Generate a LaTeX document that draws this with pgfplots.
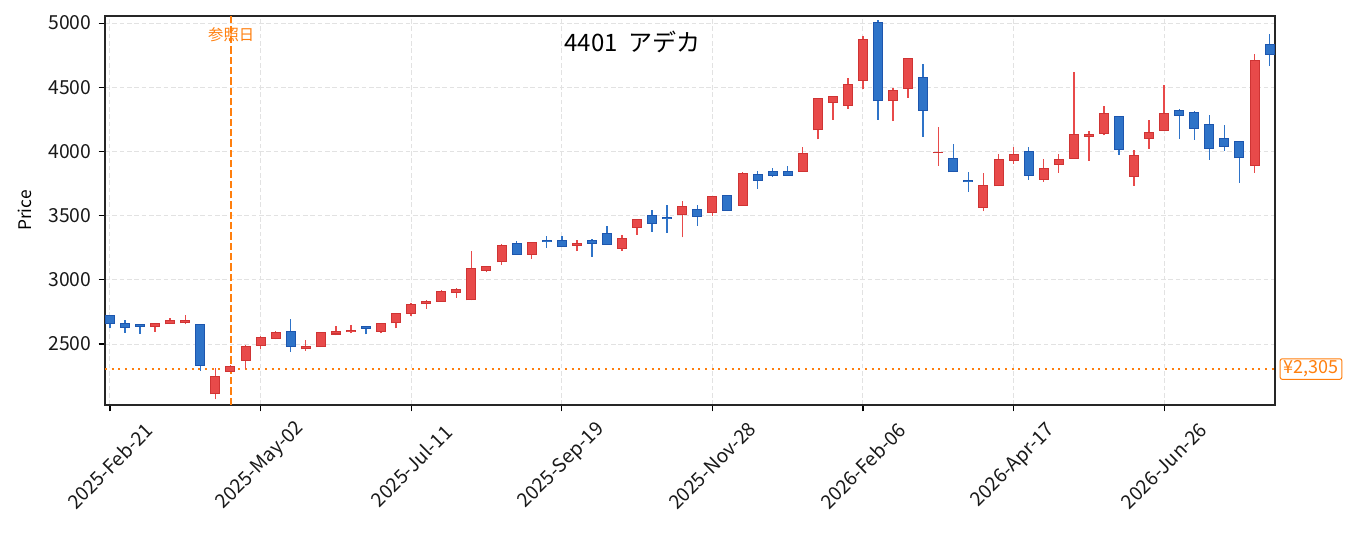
\documentclass[border=0pt]{standalone}
\usepackage{fontspec}
\usepackage{pgfplots}
\pgfplotsset{compat=1.18}
\usepackage{pgfplotstable}
\setmainfont{Noto Sans CJK JP}
\definecolor{upfill}{HTML}{E84A4A}
\definecolor{upedge}{HTML}{CF3434}
\definecolor{dnfill}{HTML}{2E73C8}
\definecolor{dnedge}{HTML}{1D56AE}
\definecolor{refor}{HTML}{FF7F0E}
\definecolor{gridc}{HTML}{E2E2E2}

\pgfplotstableread{
x O H L C
0 2720 2722 2627 2656
1 2661 2685 2588 2632
2 2653 2656 2580 2640
3 2640 2666 2596 2656
4 2656 2703 2655 2685
5 2664 2726 2653 2685
6 2653 2656 2292 2334
7 2111 2311 2069 2245
8 2285 2336 2279 2328
9 2375 2492 2303 2479
10 2492 2562 2463 2552
11 2544 2601 2537 2591
12 2596 2695 2436 2484
13 2463 2531 2448 2482
14 2477 2596 2475 2591
15 2578 2640 2568 2596
16 2596 2648 2583 2604
17 2635 2637 2575 2622
18 2601 2660 2583 2658
19 2664 2740 2622 2736
20 2739 2819 2720 2806
21 2812 2845 2775 2835
22 2835 2921 2832 2910
23 2903 2936 2861 2928
24 2843 3224 2840 3087
25 3076 3105 3058 3102
26 3139 3279 3118 3266
27 3284 3300 3198 3201
28 3201 3294 3162 3292
29 3305 3341 3250 3297
30 3305 3341 3260 3263
31 3271 3310 3224 3284
32 3308 3318 3180 3284
33 3362 3421 3277 3279
34 3245 3349 3227 3320
35 3411 3473 3351 3471
36 3502 3544 3375 3440
37 3487 3583 3367 3479
38 3512 3614 3331 3569
39 3546 3583 3421 3497
40 3528 3652 3497 3647
41 3658 3662 3536 3541
42 3580 3840 3578 3830
43 3819 3847 3709 3772
44 3845 3871 3803 3816
45 3845 3886 3814 3816
46 3847 4034 3845 3985
47 4167 4412 4094 4410
48 4385 4433 4247 4431
49 4359 4572 4333 4520
50 4556 4899 4488 4870
51 5002 5023 4247 4393
52 4393 4494 4237 4473
53 4494 4724 4418 4722
54 4574 4678 4115 4322
55 3988 4190 3889 3995
56 3943 4058 3838 3840
57 3772 3840 3686 3764
58 3567 3832 3536 3733
59 3731 3977 3729 3935
60 3933 4034 3904 3975
61 4002 4034 3780 3814
62 3783 3939 3764 3865
63 3899 3980 3834 3935
64 3946 4618 3944 4130
65 4120 4157 3928 4133
66 4141 4354 4125 4294
67 4273 4275 3975 4016
68 3806 4009 3733 3967
69 4102 4245 4021 4146
70 4164 4517 4160 4294
71 4315 4330 4099 4283
72 4302 4315 4091 4182
73 4208 4283 3935 4026
74 4099 4206 4006 4042
75 4076 4078 3756 3949
76 3894 4756 3834 4706
77 4831 4912 4665 4756
}\candles

\begin{document}
\begin{tikzpicture}
\begin{axis}[
  name=ax, at={(0,0)}, anchor=south west,
  scale only axis, width=877.5pt, height=291.75pt,
  xmin=-0.33, xmax=77.36, ymin=2025, ymax=5055,
  clip=false,
  xtick={0,10,...,70},
  xticklabels={2025-Feb-21,2025-May-02,2025-Jul-11,2025-Sep-19,2025-Nov-28,2026-Feb-06,2026-Apr-17,2026-Jun-26},
  ytick={2500,3000,...,5000},
  /pgf/number format/assume math mode=true,
  /pgf/number format/1000 sep={},
  tick label style={font=\fontsize{14.5}{16}\selectfont, text=black!90},
  xticklabel style={anchor=center, yshift=-41pt, rotate=45},
  yticklabel style={xshift=-2pt},
  xtick pos=bottom, ytick pos=left,
  tick align=outside, major tick length=4.7pt,
  tick style={black, line width=0.8pt},
  axis line style={black!85, line width=1pt},
  grid=major,
  grid style={gridc, line width=0.75pt, dash pattern=on 3.5pt off 2pt},
  ylabel={Price},
  every axis y label/.style={at={(axis description cs:-0.0684,0.5)}, rotate=90, anchor=center, font=\fontsize{13}{15}\selectfont},
]
% reference lines
\addplot[forget plot, refor, line width=1.4pt, dash pattern=on 1.4pt off 3.6pt] coordinates {(-0.33,2305) (77.36,2305)};
\addplot[forget plot, refor, line width=1.7pt, dash pattern=on 5.5pt off 2.25pt] coordinates {(8.05,2025) (8.05,5055)};
% wicks
\addplot[forget plot, draw=none, mark=none,
  restrict expr to domain={\thisrow{C}-\thisrow{O}}{0:100000},
  error bars/.cd, y dir=plus, y explicit, error mark=none,
  error bar style={draw=upfill, line width=1.1pt, solid}]
  table[x=x, y=L, y error expr=\thisrow{H}-\thisrow{L}] {\candles};
\addplot[forget plot, draw=none, mark=none,
  restrict expr to domain={\thisrow{C}-\thisrow{O}}{-100000:0},
  error bars/.cd, y dir=plus, y explicit, error mark=none,
  error bar style={draw=dnfill, line width=1.1pt, solid}]
  table[x=x, y=L, y error expr=\thisrow{H}-\thisrow{L}] {\candles};
% bodies: edge
\addplot[forget plot, draw=none, mark=none,
  restrict expr to domain={\thisrow{C}-\thisrow{O}}{0:100000},
  error bars/.cd, y dir=plus, y explicit, error mark=none,
  error bar style={draw=upedge, line width=7.5pt, solid}]
  table[x=x, y expr={min(\thisrow{O},\thisrow{C})-3.9}, y error expr={abs(\thisrow{C}-\thisrow{O})+7.8}] {\candles};
\addplot[forget plot, draw=none, mark=none,
  restrict expr to domain={\thisrow{C}-\thisrow{O}}{-100000:0},
  error bars/.cd, y dir=plus, y explicit, error mark=none,
  error bar style={draw=dnedge, line width=7.5pt, solid}]
  table[x=x, y expr={min(\thisrow{O},\thisrow{C})-3.9}, y error expr={abs(\thisrow{C}-\thisrow{O})+7.8}] {\candles};
% bodies: fill
\addplot[forget plot, draw=none, mark=none,
  restrict expr to domain={\thisrow{C}-\thisrow{O}}{0:100000},
  error bars/.cd, y dir=plus, y explicit, error mark=none,
  error bar style={draw=upfill, line width=6pt, solid}]
  table[x=x, y expr={min(\thisrow{O},\thisrow{C})+3.9}, y error expr={max(abs(\thisrow{C}-\thisrow{O})-7.8,0)}] {\candles};
\addplot[forget plot, draw=none, mark=none,
  restrict expr to domain={\thisrow{C}-\thisrow{O}}{-100000:0},
  error bars/.cd, y dir=plus, y explicit, error mark=none,
  error bar style={draw=dnfill, line width=6pt, solid}]
  table[x=x, y expr={min(\thisrow{O},\thisrow{C})+3.9}, y error expr={max(abs(\thisrow{C}-\thisrow{O})-7.8,0)}] {\candles};
% annotations
\node[font=\fontsize{18}{21}\selectfont, text=black, anchor=center] at (rel axis cs:0.451,0.933) {4401\ \ アデカ};
\node[font=\fontsize{11.5}{13}\selectfont, text=refor, anchor=center] at (axis cs:8.05,4906) {参照日};
\node[draw=refor, text=refor, fill=white, rounded corners=1.5pt, line width=0.75pt, anchor=west, inner xsep=2.5pt, inner ysep=1.5pt, font=\fontsize{13.5}{15}\selectfont, xshift=3.5pt] at (axis cs:77.36,2305) {¥2,305};
\end{axis}
\pgfresetboundingbox
\path (-78.75pt,-96.75pt) rectangle (937.5pt,303.75pt);
\end{tikzpicture}
\end{document}
